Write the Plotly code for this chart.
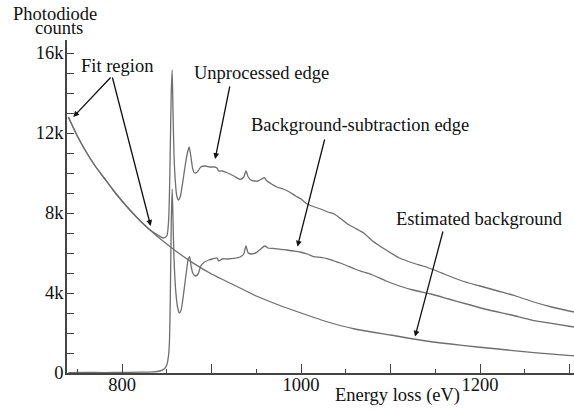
import plotly.graph_objects as go

# ---------------- data (counts in thousands) ----------------
energy_bg = [740, 750, 760, 770, 780, 790, 800, 815, 830, 845, 860, 880, 900, 925, 950,
             975, 1000, 1030, 1060, 1100, 1140, 1180, 1220, 1260, 1305]
counts_bg = [12.8, 11.85, 11.05, 10.35, 9.75, 9.15, 8.6, 7.85, 7.2, 6.62, 6.1, 5.48, 4.95, 4.4, 3.85,
             3.4, 3.0, 2.55, 2.2, 1.9, 1.6, 1.38, 1.2, 1.02, 0.86]

energy_raw = [740, 750, 760, 770, 780, 790, 800, 815, 830, 840, 846, 850, 852, 853, 854, 855, 856,
              857, 858, 859.5, 861, 863, 865, 867, 869, 871, 873, 875, 877, 879, 881, 884, 888,
              893, 898, 903, 906, 908, 912, 918, 925, 932, 936, 938.5, 941, 944, 948, 952, 956,
              959, 962, 967, 973, 980, 987, 994, 1000, 1007, 1015, 1022, 1030, 1037, 1045, 1052,
              1060, 1070, 1080, 1095, 1110, 1125, 1140, 1160, 1180, 1200, 1220, 1240, 1260, 1280, 1305]
counts_raw = [12.8, 11.85, 11.05, 10.35, 9.75, 9.15, 8.6, 7.85, 7.2, 6.9, 6.75, 6.85, 7.6, 9.0, 11.5, 14.0, 15.15,
              13.0, 11.0, 9.6, 8.9, 8.65, 8.8, 9.3, 9.9, 10.5, 11.0, 11.3, 10.8, 10.2, 10.0, 10.05, 10.3,
              10.35, 10.3, 10.3, 10.25, 10.1, 10.1, 10.0, 9.85, 9.68, 9.8, 10.1, 9.8, 9.65, 9.6, 9.6, 9.7,
              9.77, 9.6, 9.45, 9.3, 9.2, 9.05, 8.85, 8.7, 8.45, 8.3, 8.2, 8.05, 7.95, 7.7, 7.45,
              7.25, 7.0, 6.6, 6.15, 5.75, 5.5, 5.3, 4.95, 4.6, 4.35, 4.1, 3.85, 3.55, 3.3, 3.05]

energy_sub = [740, 760, 780, 800, 820, 835, 842, 847, 850, 852, 853, 854, 855, 856, 857, 858, 860,
              862, 864, 866, 868, 870, 872, 874, 875.5, 877, 879, 882, 885, 888, 892, 897, 901, 906,
              908, 912, 918, 925, 932, 936, 938.5, 941, 945, 950, 955, 959.5, 963, 969, 977, 984,
              992, 999, 1007, 1014, 1022, 1029, 1037, 1044, 1052, 1060, 1070, 1080, 1095, 1110,
              1125, 1145, 1165, 1185, 1210, 1235, 1260, 1280, 1305]
counts_sub = [0.02, 0.03, 0.02, 0.03, 0.04, 0.06, 0.1, 0.2, 0.4, 0.9, 1.6, 4.0, 7.5, 9.2, 7.6, 5.8, 4.1,
              3.3, 3.0, 3.15, 3.7, 4.4, 5.1, 5.7, 5.82, 5.4, 5.0, 4.85, 4.95, 5.35, 5.55, 5.65, 5.7, 5.75,
              5.6, 5.7, 5.7, 5.73, 5.8, 5.95, 6.35, 6.0, 5.95, 6.02, 6.2, 6.35, 6.25, 6.23, 6.18, 6.15,
              6.1, 6.05, 5.95, 5.82, 5.78, 5.72, 5.6, 5.5, 5.35, 5.2, 5.05, 4.9, 4.6, 4.35,
              4.15, 3.95, 3.7, 3.45, 3.15, 2.9, 2.62, 2.48, 2.3]

x_tick_vals = [800, 900, 1000, 1100, 1200, 1300]
x_tick_text = ["800", "", "1000", "", "1200", ""]
x_minor_vals = [750, 850, 950, 1050, 1150, 1250]
y_tick_vals = [0, 4, 8, 12, 16]
y_tick_text = ["0", "4k", "8k", "12k", "16k"]
y_minor_vals = [1, 2, 3, 5, 6, 7, 9, 10, 11, 13, 14, 15]

# ---------------- layout helpers ----------------
# the page body margin is removed (post_script below) so the figure fills the window
W, H = 574, 410
PLOT_L, PLOT_T, PLOT_R, PLOT_B = 67, 40, 574, 373   # plot area in page pixels
ML, MT = PLOT_L, PLOT_T
MR, MB = W - PLOT_R, H - PLOT_B
PW, PH = PLOT_R - PLOT_L, PLOT_B - PLOT_T
FONT = "Liberation Serif"
FS = 18.5
LINE_COLOR = "#6e6e6e"


def px(x):
    return (x - PLOT_L) / PW


def py(y):
    return (PLOT_B - y) / PH


fig = go.Figure()
for xs, ys in [(energy_bg, counts_bg), (energy_raw, counts_raw), (energy_sub, counts_sub)]:
    fig.add_trace(go.Scatter(x=xs, y=ys, mode="lines",
                             line=dict(color=LINE_COLOR, width=1.3, shape="spline", smoothing=0.6),
                             hoverinfo="skip", showlegend=False))

annotations = []
# text labels (page-pixel centres -> paper)
for txt, cx, cy in [("Fit region", 117, 66),
                    ("Unprocessed edge", 261, 73),
                    ("Background-subtraction edge", 360, 125),
                    ("Estimated background", 479, 219),
                    ("Energy loss (eV)", 397, 396),
                    ("Photodiode", 55, 14),
                    ("counts", 59, 28)]:
    annotations.append(dict(text=txt, x=px(cx), y=py(cy), xref="paper", yref="paper",
                            xanchor="center", yanchor="middle", showarrow=False,
                            font=dict(family=FONT, size=FS, color="#111")))

# arrows (tail -> head) in data coordinates
arrows = [((788.8, 14.85), (745.5, 12.8)),
          ((788.8, 14.85), (832.0, 7.35)),
          ((920.7, 14.4), (904.0, 10.7)),
          ((1026.8, 11.75), (996.0, 6.32)),
          ((1159.0, 7.15), (1127.4, 1.82))]
for (tx, ty), (hx, hy) in arrows:
    annotations.append(dict(text="", x=hx, y=hy, ax=tx, ay=ty, xref="x", yref="y",
                            axref="x", ayref="y", showarrow=True, arrowhead=2,
                            arrowsize=0.9, arrowwidth=1.3, arrowcolor="#111"))

fig.update_layout(
    width=W, height=H,
    margin=dict(l=ML, r=MR, t=MT, b=MB, pad=0, autoexpand=False),
    paper_bgcolor="white", plot_bgcolor="white",
    font=dict(family=FONT, size=FS, color="#111"),
    annotations=annotations,
    hovermode=False,
    xaxis=dict(range=[738.5, 1305], showgrid=False, zeroline=False, automargin=False,
               showline=True, linecolor="#444", linewidth=1.5,
               tickmode="array", tickvals=x_tick_vals, ticktext=x_tick_text,
               ticks="inside", ticklen=9, tickwidth=1, tickcolor="#444",
               ticklabelstandoff=-6,
               minor=dict(tickmode="array", tickvals=x_minor_vals, ticks="inside",
                          ticklen=4.5, tickwidth=1, tickcolor="#444"),
               tickfont=dict(family=FONT, size=FS, color="#111")),
    yaxis=dict(range=[0, 16.65], showgrid=False, zeroline=False, automargin=False,
               showline=True, linecolor="#444", linewidth=1.5,
               tickmode="array", tickvals=y_tick_vals, ticktext=y_tick_text,
               ticks="inside", ticklen=7, tickwidth=1, tickcolor="#444",
               ticklabelstandoff=-2,
               minor=dict(tickmode="array", tickvals=y_minor_vals, ticks="inside",
                          ticklen=7, tickwidth=1, tickcolor="#444"),
               tickfont=dict(family=FONT, size=FS, color="#111")),
)

fig.write_html("out.html", config={"displayModeBar": False},
               post_script="document.body.style.margin='0';document.body.style.overflow='hidden';")
